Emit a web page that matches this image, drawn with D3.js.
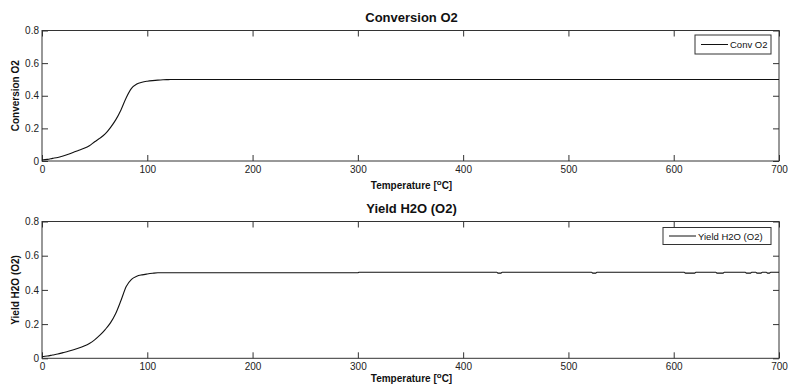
<!DOCTYPE html>
<html>
<head>
<meta charset="utf-8">
<script src="https://cdn.jsdelivr.net/npm/d3@7"></script>
<style>
  html, body { margin: 0; padding: 0; background: #fff; }
  svg { display: block; font-family: "Liberation Sans", Arial, sans-serif; }
  .axis path { display: none; }
  .axis line { stroke: #333; stroke-width: 1; }
  .axis text { fill: #222; font-size: 10px; }
</style>
</head>
<body>
<svg id="chart" width="788" height="387"></svg>
<script>
// O2 conversion vs temperature
const convTemp = [0, 5, 10, 15, 20, 25, 30, 35, 40, 45, 50, 55, 60, 65, 70, 75, 80, 85, 90, 95, 100, 105, 110, 115, 120, 125, 700];
const convO2   = [0.006, 0.010, 0.016, 0.022, 0.031, 0.041, 0.053, 0.066, 0.078, 0.094, 0.118, 0.140, 0.166, 0.205, 0.252, 0.313, 0.388, 0.445, 0.472, 0.483, 0.489, 0.493, 0.496, 0.498, 0.499, 0.500, 0.500];

// H2O yield (from O2) vs temperature
const yieldTemp = [0, 5, 10, 15, 20, 25, 30, 35, 40, 45, 50, 55, 60, 65, 70, 75, 80, 85, 90, 95, 100, 105, 110, 300,
                   301, 432, 433, 436, 437, 522, 523, 526, 527, 610, 611, 620, 621, 640, 641, 647, 648,
                   668, 669, 673, 674, 678, 679, 683, 684, 688, 689, 691, 692, 700];
const yieldH2O  = [0.009, 0.013, 0.019, 0.025, 0.033, 0.041, 0.050, 0.060, 0.072, 0.087, 0.108, 0.135, 0.168, 0.207, 0.262, 0.338, 0.420, 0.462, 0.480, 0.488, 0.493, 0.497, 0.500, 0.500,
                   0.503, 0.503, 0.498, 0.498, 0.503, 0.503, 0.498, 0.498, 0.503, 0.503, 0.498, 0.498, 0.503, 0.503, 0.498, 0.498, 0.503,
                   0.503, 0.498, 0.498, 0.503, 0.503, 0.498, 0.498, 0.503, 0.503, 0.498, 0.498, 0.503, 0.503];

const xTicks = [0, 100, 200, 300, 400, 500, 600, 700];
const yTicks = [0, 0.2, 0.4, 0.6, 0.8];

const panels = [
  { title: "Conversion O2", ylabel: "Conversion O2", legend: "Conv O2",
    xs: convTemp, ys: convO2, top: 30.5, bottom: 161, xlabOff: 24, legW: 76, legH: 19, legTop: 35 },
  { title: "Yield H2O (O2)", ylabel: "Yield H2O (O2)", legend: "Yield H2O (O2)",
    xs: yieldTemp, ys: yieldH2O, top: 221.5, bottom: 358.3, xlabOff: 20, legW: 108, legH: 17, legTop: 227.5 }
];

const svg = d3.select("#chart");
const left = 42, right = 779;
const x = d3.scaleLinear().domain([0, 700]).range([left, right]);

panels.forEach(p => {
  const y = d3.scaleLinear().domain([0, 0.8]).range([p.bottom, p.top]);
  const g = svg.append("g");

  g.append("g").attr("class", "axis")
    .attr("transform", `translate(0,${p.bottom})`)
    .call(d3.axisBottom(x).tickValues(xTicks).tickFormat(d3.format("d")).tickSizeInner(-6).tickSizeOuter(0).tickPadding(4.5));
  g.append("g").attr("class", "axis")
    .attr("transform", `translate(0,${p.top})`)
    .call(d3.axisTop(x).tickValues(xTicks).tickFormat("").tickSizeInner(-6).tickSizeOuter(0));
  g.append("g").attr("class", "axis")
    .attr("transform", `translate(${left},0)`)
    .call(d3.axisLeft(y).tickValues(yTicks).tickFormat(d => d === 0 ? "0" : d3.format(".1f")(d)).tickSizeInner(-6).tickSizeOuter(0).tickPadding(3));
  g.append("g").attr("class", "axis")
    .attr("transform", `translate(${right},0)`)
    .call(d3.axisRight(y).tickValues(yTicks).tickFormat("").tickSizeInner(-6).tickSizeOuter(0));

  // plot frame
  g.append("rect")
    .attr("x", left).attr("y", p.top)
    .attr("width", right - left).attr("height", p.bottom - p.top)
    .attr("fill", "none").attr("stroke", "#333").attr("stroke-width", 1);

  // data line
  const pts = p.xs.map((t, i) => [t, p.ys[i]]);
  g.append("path")
    .datum(pts)
    .attr("fill", "none").attr("stroke", "#111").attr("stroke-width", 1.1)
    .attr("d", d3.line().x(d => x(d[0])).y(d => y(d[1])).curve(d3.curveMonotoneX));

  // title
  g.append("text")
    .attr("x", (left + right) / 2 + 1).attr("y", p.top - 13.5)
    .attr("text-anchor", "middle").attr("dominant-baseline", "central")
    .attr("font-size", 13).attr("font-weight", "bold").attr("fill", "#111")
    .text(p.title);

  // x label
  const xl = g.append("text")
    .attr("x", (left + right) / 2 + 1).attr("y", p.bottom + p.xlabOff)
    .attr("text-anchor", "middle").attr("dominant-baseline", "central")
    .attr("font-size", 10).attr("font-weight", "bold").attr("fill", "#111");
  xl.append("tspan").text("Temperature [");
  xl.append("tspan").attr("font-size", 8).attr("dy", -3).text("o");
  xl.append("tspan").attr("dy", 3).text("C]");

  // y label
  g.append("text")
    .attr("transform", `translate(15,${(p.top + p.bottom) / 2}) rotate(-90)`)
    .attr("text-anchor", "middle").attr("dominant-baseline", "central")
    .attr("font-size", 10).attr("font-weight", "bold").attr("fill", "#111")
    .text(p.ylabel);

  // legend
  const lx = right - 8 - p.legW, ly = p.legTop;
  const lg = g.append("g");
  lg.append("rect")
    .attr("x", lx).attr("y", ly).attr("width", p.legW).attr("height", p.legH)
    .attr("fill", "#fff").attr("stroke", "#333").attr("stroke-width", 1);
  lg.append("line")
    .attr("x1", lx + 6).attr("x2", lx + 33)
    .attr("y1", ly + p.legH / 2).attr("y2", ly + p.legH / 2)
    .attr("stroke", "#111").attr("stroke-width", 1);
  lg.append("text")
    .attr("x", lx + 35).attr("y", ly + p.legH / 2)
    .attr("dominant-baseline", "central")
    .attr("font-size", 9.5).attr("fill", "#111")
    .text(p.legend);
});
</script>
</body>
</html>
